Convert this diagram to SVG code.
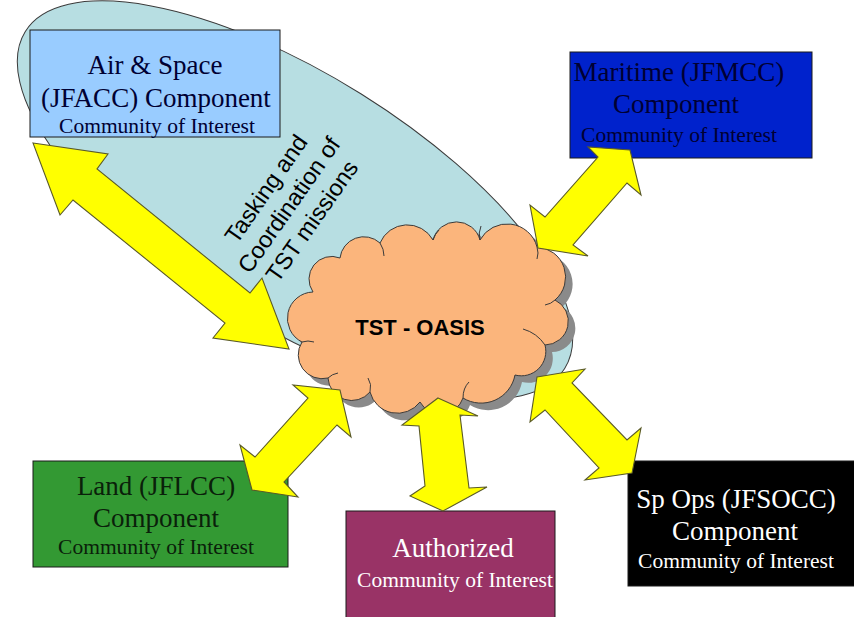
<svg xmlns="http://www.w3.org/2000/svg" width="854" height="617" viewBox="0 0 854 617">
  <defs>
    <style>
      .box { stroke: #1a1a1a; stroke-width: 1; }
      .big { font-family: "Liberation Serif", "Times New Roman", serif; font-size: 27px; text-anchor: middle; }
      .small { font-family: "Liberation Serif", "Times New Roman", serif; font-size: 21.5px; text-anchor: middle; }
      .arrow { fill: #ffff00; stroke: #5a5a28; stroke-width: 1.1; stroke-linejoin: miter; }
      .cusp { fill: none; stroke: #3a3a3a; stroke-width: 1; }
    </style>
    <path id="cloud-shape" d="M313,292 A22.7,22.7 0 0 1 340,258 A24,24 0 0 1 380,243 A29.5,29.5 0 0 1 433,240 A24.3,24.3 0 0 1 480,240 A30.9,30.9 0 0 1 537,247 A30.1,30.1 0 0 1 555,300 A23.7,23.7 0 0 1 545,345 A24.5,24.5 0 0 1 515,375 A34.5,34.5 0 0 1 463,398 A23.6,23.6 0 0 1 420,402 A28.3,28.3 0 0 1 370,392 A23.8,23.8 0 0 1 328,378 A23.9,23.9 0 0 1 302,342 A26.4,26.4 0 0 1 313,292 Z"/>
  </defs>

  <rect width="854" height="617" fill="#ffffff"/>

  <!-- coordination zone around the air component -->
  <g id="coordination-zone">
    <ellipse cx="295" cy="200" rx="318" ry="125" transform="rotate(32 295 200)" fill="#b7dee2" stroke="#3a3a3a" stroke-width="1"/>
    <g transform="translate(289,205) rotate(-55)" font-family="'Liberation Sans', Arial, sans-serif" font-size="23.5" text-anchor="middle" fill="#000000">
      <text x="0" y="-20">Tasking and</text>
      <text x="0" y="8">Coordination of</text>
      <text x="0" y="36">TST missions</text>
    </g>
  </g>

  <!-- central hub -->
  <g id="tst-oasis">
    <use href="#cloud-shape" transform="translate(7,7)" fill="#8a8a8a"/>
    <use href="#cloud-shape" fill="#fbb57c" stroke="#3a3a3a" stroke-width="1"/>
    <path class="cusp" d="M380,243 q4,6 4,13"/>
    <path class="cusp" d="M433,240 q2,-6 6,-10"/>
    <path class="cusp" d="M480,240 q-2,-7 1,-14"/>
    <path class="cusp" d="M537,247 q2,6 0,12"/>
    <path class="cusp" d="M555,300 q-4,4 -10,5"/>
    <path class="cusp" d="M545,345 q-8,-12 -22,-16"/>
    <path class="cusp" d="M463,398 q0,-10 6,-16"/>
    <path class="cusp" d="M370,392 q2,-8 -2,-14"/>
    <path class="cusp" d="M328,378 q4,-4 10,-5"/>
    <path class="cusp" d="M302,342 q6,-2 12,0"/>
    <text x="420" y="335" font-family="'Liberation Sans', Arial, sans-serif" font-size="22" font-weight="bold" text-anchor="middle" fill="#000000">TST - OASIS</text>
  </g>

  <g id="air-space">
    <rect class="box" x="30" y="30" width="250" height="107" fill="#99ccff"/>
    <text class="big" x="155" y="74" fill="#000033">Air &amp; Space</text>
    <text class="big" x="156" y="107" fill="#000033">(JFACC) Component</text>
    <text class="small" x="157" y="133" fill="#000033">Community of Interest</text>
  </g>

  <g id="maritime">
    <rect class="box" x="570" y="52" width="242" height="106" fill="#0022cc"/>
    <text class="big" x="679" y="81" fill="#000033">Maritime (JFMCC)</text>
    <text class="big" x="676" y="113" fill="#000033">Component</text>
    <text class="small" x="679" y="142" fill="#000033">Community of Interest</text>
  </g>

  <g id="land">
    <rect class="box" x="33" y="461" width="255" height="106" fill="#339933"/>
    <text class="big" x="156" y="495" fill="#0a200a">Land (JFLCC)</text>
    <text class="big" x="156" y="527" fill="#0a200a">Component</text>
    <text class="small" x="156" y="554" fill="#0a200a">Community of Interest</text>
  </g>

  <g id="authorized">
    <rect class="box" x="346" y="511" width="209" height="110" fill="#993366"/>
    <text class="big" x="453" y="557" fill="#ffffff">Authorized</text>
    <text class="small" x="455" y="587" fill="#ffffff" font-size="22px">Community of Interest</text>
  </g>

  <g id="sp-ops">
    <rect class="box" x="628" y="461" width="230" height="125" fill="#000000"/>
    <text class="big" x="736" y="508" fill="#ffffff">Sp Ops (JFSOCC)</text>
    <text class="big" x="735" y="540" fill="#ffffff">Component</text>
    <text class="small" x="736" y="568" fill="#ffffff">Community of Interest</text>
  </g>

  <!-- two-way links between the hub and each community -->
  <g id="connectors">
    <polygon class="arrow" points="33,143 108,154 97,169 250,293 262,278 289,349 213,338 225,323 73,200 60,215"/>
    <polygon class="arrow" points="538,248 530,205 545,217 598,157 588,147 630,150 641,195 627,183 573,245 588,256"/>
    <polygon class="arrow" points="252,490 240,445 255,457 308,398 293,385 340,390 351,437 337,425 284,482 298,497"/>
    <polygon class="arrow" points="438,398 478,416 460,415 469,488 487,487 443,511 410,496 425,486 419,426 402,425"/>
    <polygon class="arrow" points="537,377 585,369 572,383 627,440 641,428 632,473 585,480 599,468 545,410 530,422"/>
  </g>
</svg>
